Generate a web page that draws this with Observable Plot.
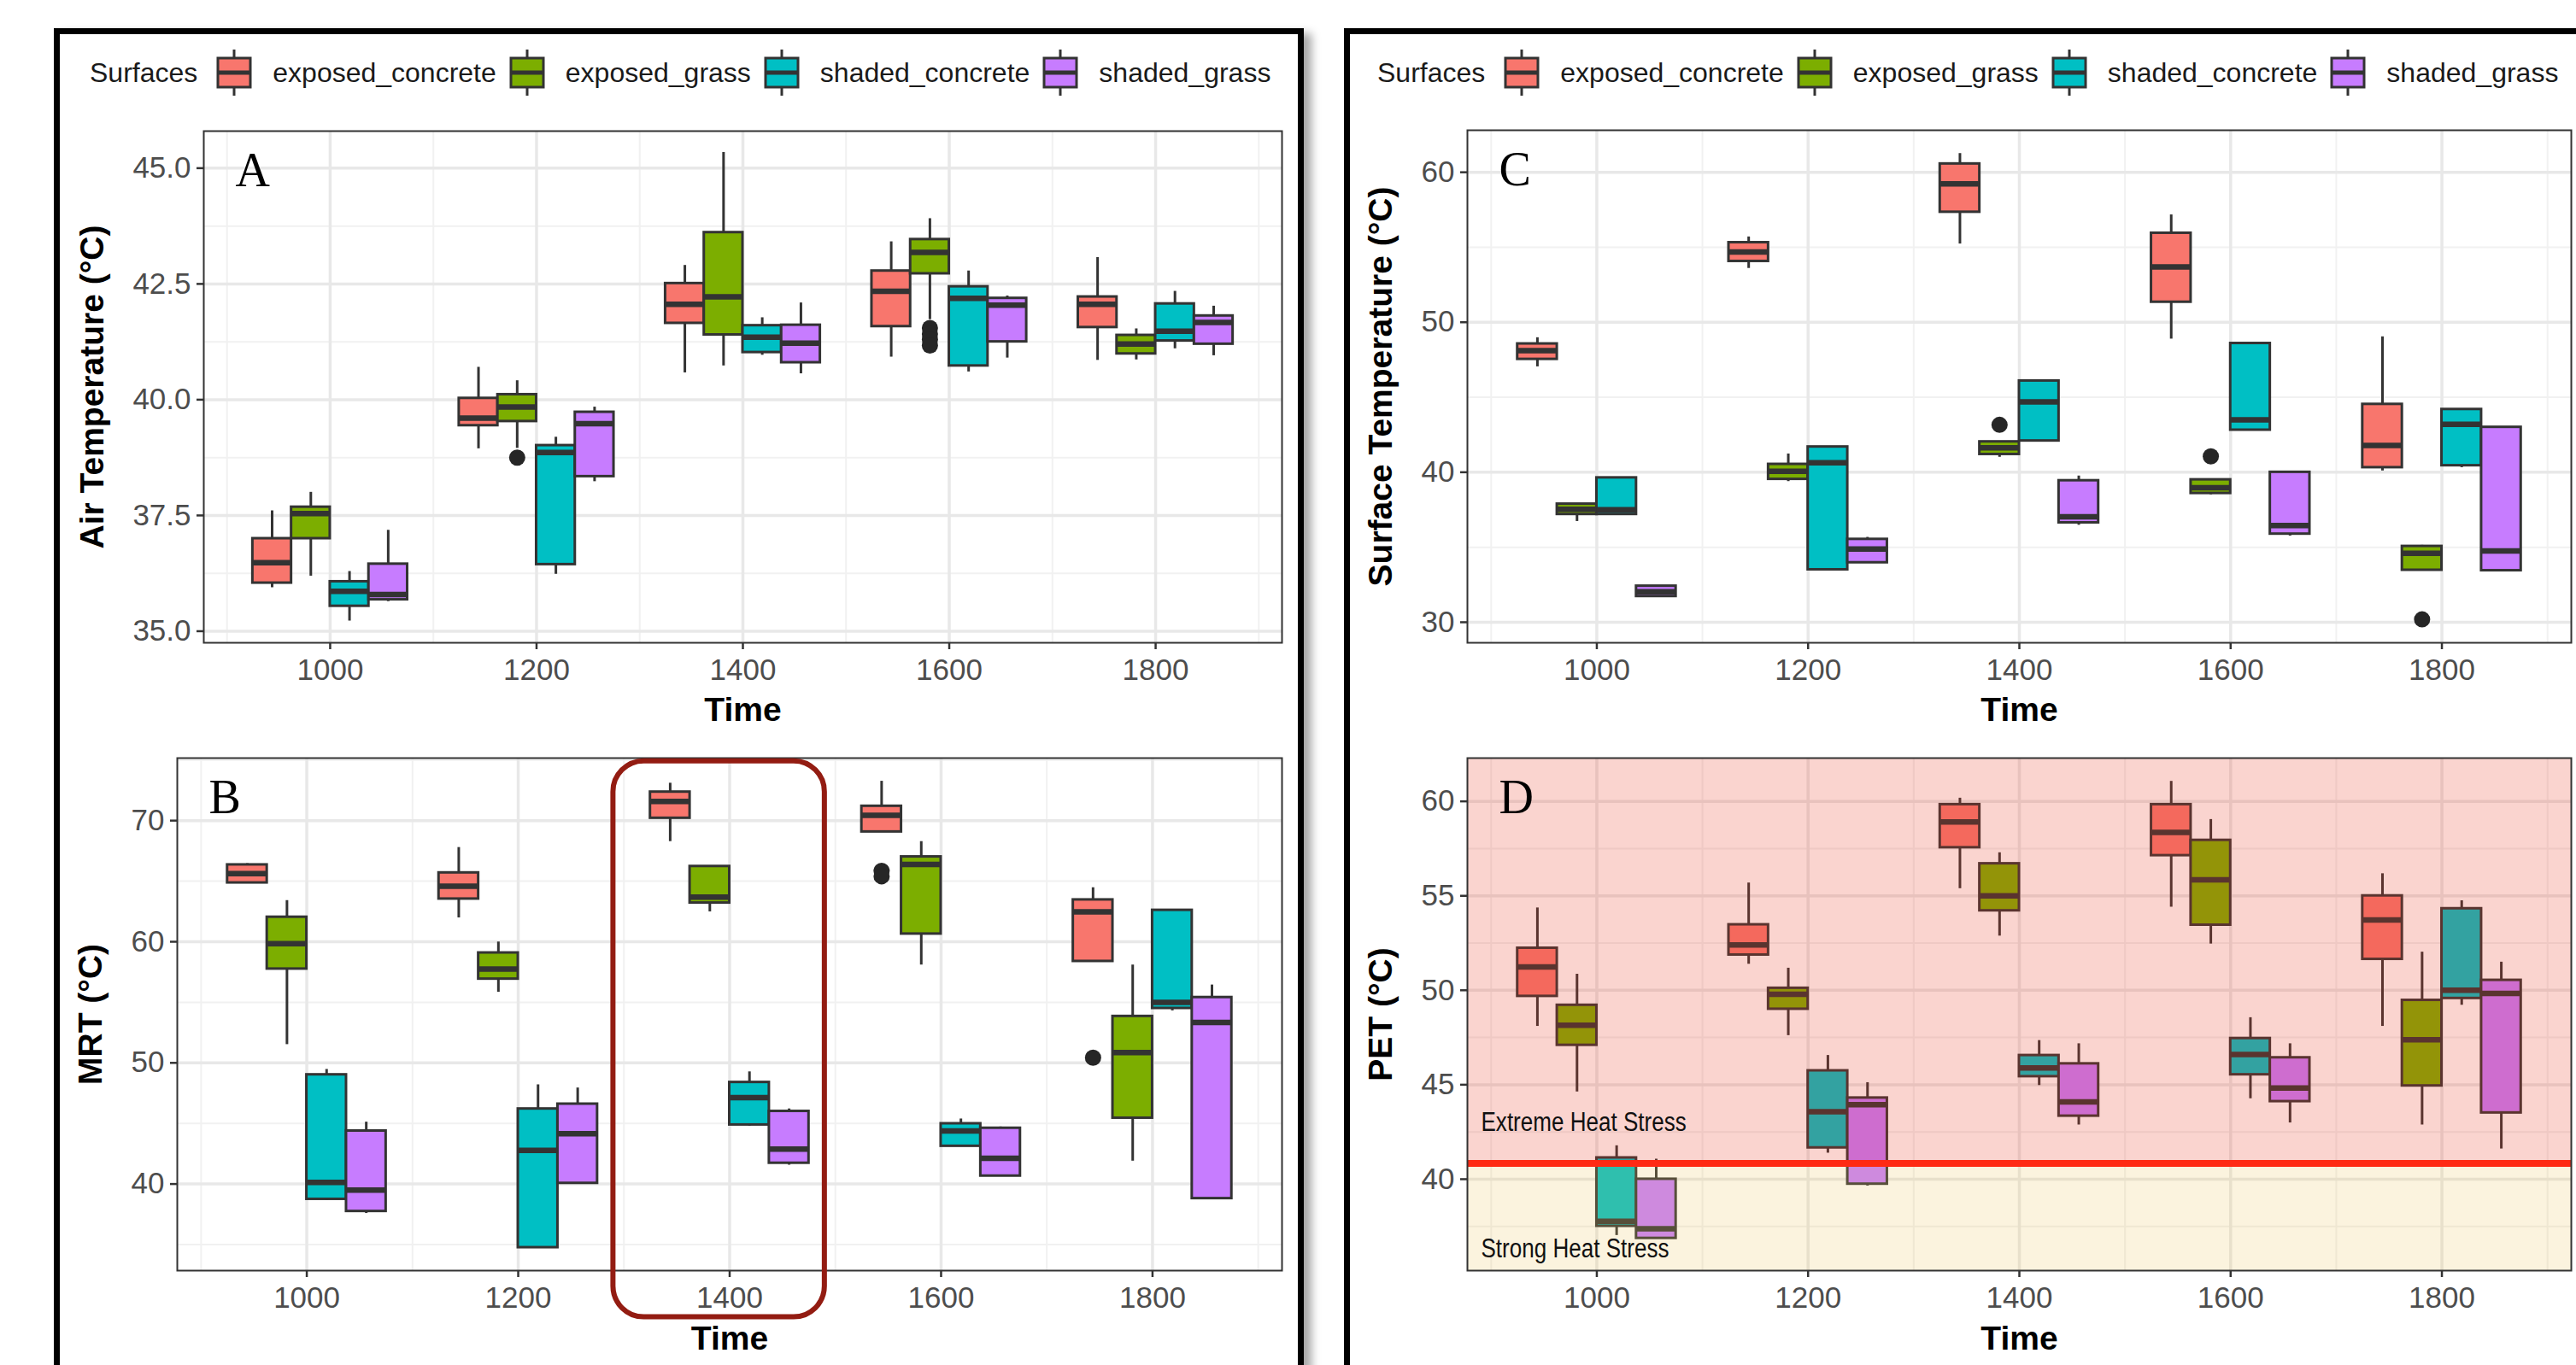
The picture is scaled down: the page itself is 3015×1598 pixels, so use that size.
<!DOCTYPE html>
<html><head><meta charset="utf-8">
<script src="https://cdn.jsdelivr.net/npm/d3@7"></script>
<script src="https://cdn.jsdelivr.net/npm/@observablehq/plot@0.6"></script>
<style>
html,body{margin:0;padding:0;background:#fff;}
#page{position:relative;width:3015px;height:1598px;overflow:hidden;background:#fff;font-family:'Liberation Sans',Arial,Helvetica,sans-serif;}
.frame{position:absolute;border:7px solid #000;box-sizing:border-box;}
.panel{position:absolute;}
.legend{position:absolute;top:58px;height:54px;display:flex;align-items:center;font-size:32px;color:#1a1a1a;white-space:nowrap;}
.legend .ttl{margin-right:18px;}
.legend svg{display:block;margin-right:20px;}
.legend .lab{margin-right:11px;}
</style></head>
<body><div id="page"></div>
<script>
// ---------- shared categories ----------
const times = [1000, 1200, 1400, 1600, 1800];
const surfaces = ["exposed_concrete", "exposed_grass", "shaded_concrete", "shaded_grass"];
const surfaceColors = ["#F8766D", "#7CAE00", "#00BFC4", "#C77CFF"];
const dodgeOffsets = [-56.25, -18.75, 18.75, 56.25];
const boxHalfWidth = 18.75;
const xDomain = [877.5, 1922.5];
const xMinor = [900, 1100, 1300, 1500, 1700, 1900];

// ---------- Panel A: Air Temperature  [whiskerLow, q1, median, q3, whiskerHigh] per time ----------
const airExposedConcrete = [[35.94,36.04,36.48,37.0,37.6],[38.94,39.44,39.6,40.03,40.7],[40.58,41.65,42.06,42.51,42.9],[40.92,41.58,42.34,42.78,43.41],[40.85,41.56,42.06,42.22,43.07]];
const airExposedGrass    = [[36.19,37.0,37.54,37.68,38.0],[38.95,39.53,39.84,40.11,40.41],[40.73,41.4,42.22,43.61,45.34],[41.73,42.72,43.18,43.46,43.91],[40.86,40.99,41.2,41.39,41.53]];
const airShadedConcrete  = [[35.22,35.54,35.86,36.07,36.29],[36.23,36.44,38.86,39.01,39.19],[40.96,41.02,41.35,41.6,41.77],[40.6,40.73,42.19,42.44,42.78],[41.1,41.27,41.48,42.07,42.34]];
const airShadedGrass     = [[35.64,35.68,35.79,36.45,37.18],[38.23,38.34,39.48,39.73,39.84],[40.56,40.8,41.22,41.61,42.09],[40.9,41.25,42.04,42.19,42.24],[40.95,41.2,41.67,41.81,42.02]];
const airOutliers = [[1200,"exposed_grass",38.75],[1600,"exposed_grass",41.55],[1600,"exposed_grass",41.42],[1600,"exposed_grass",41.3],[1600,"exposed_grass",41.17]];

// ---------- Panel B: MRT ----------
const mrtExposedConcrete = [[64.86,64.86,65.62,66.35,66.45],[61.97,63.53,64.59,65.69,67.78],[68.27,70.2,71.59,72.36,73.09],[69.07,69.07,70.43,71.19,73.25],[58.38,58.38,62.47,63.46,64.46]];
const mrtExposedGrass    = [[51.51,57.75,59.84,62.03,63.4],[55.83,56.92,57.75,59.08,59.98],[62.47,63.2,63.69,66.22,66.25],[58.08,60.64,66.38,67.01,68.27],[41.89,45.44,50.85,53.84,58.08]];
const mrtShadedConcrete  = [[38.67,38.74,40.13,49.02,49.46],[34.75,34.75,42.78,46.2,48.19],[44.78,44.88,47.13,48.39,49.26],[43.12,43.12,44.38,44.98,45.37],[54.3,54.5,55.0,62.6,62.63]];
const mrtShadedGrass     = [[37.57,37.74,39.5,44.38,45.11],[40.06,40.06,44.15,46.6,47.93],[41.56,41.72,42.88,46.0,46.2],[40.66,40.66,42.12,44.61,44.71],[38.8,38.8,53.34,55.4,56.43]];
const mrtOutliers = [[1600,"exposed_concrete",65.85],[1600,"exposed_concrete",65.4],[1800,"exposed_concrete",50.42]];
const highlightTimes = [1290, 1490];
const highlightValues = [29.0, 74.9];

// ---------- Panel C: Surface Temperature ----------
const surfExposedConcrete = [[47.03,47.53,48.1,48.56,48.97],[53.59,54.06,54.69,55.31,55.69],[55.22,57.34,59.22,60.56,61.25],[48.88,51.34,53.69,55.94,57.16],[40.09,40.31,41.78,44.53,49.03]];
const surfExposedGrass    = [[36.72,37.19,37.53,37.88,37.88],[39.38,39.53,40.06,40.53,41.22],[41.0,41.19,41.63,42.03,42.03],[38.5,38.59,38.97,39.5,39.5],[33.47,33.47,34.59,35.06,35.13]];
const surfShadedConcrete  = [[37.19,37.19,37.5,39.63,39.63],[33.5,33.5,40.63,41.69,41.72],[42.09,42.09,44.69,46.09,46.09],[42.81,42.81,43.5,48.59,48.59],[40.31,40.44,43.19,44.19,44.22]];
const surfShadedGrass     = [[31.72,31.72,32.03,32.41,32.41],[33.95,33.97,34.88,35.53,35.66],[36.47,36.63,37.03,39.44,39.75],[35.75,35.88,36.44,40.0,40.0],[33.44,33.44,34.75,43.0,43.03]];
const surfOutliers = [[1400,"exposed_grass",43.16],[1600,"exposed_grass",41.06],[1800,"exposed_grass",30.19]];

// ---------- Panel D: PET ----------
const petExposedConcrete = [[48.09,49.68,51.23,52.23,54.36],[51.38,51.87,52.4,53.47,55.68],[55.38,57.55,58.91,59.83,60.17],[54.4,57.13,58.36,59.83,61.06],[48.09,51.64,53.72,55.0,56.17]];
const petExposedGrass    = [[44.62,47.09,48.15,49.21,50.85],[47.6,49.0,49.79,50.11,51.17],[52.87,54.21,55.0,56.7,57.28],[52.45,53.45,55.85,57.94,59.04],[42.87,44.94,47.38,49.47,52.02]];
const petShadedConcrete  = [[37.02,37.51,37.77,41.13,41.77],[41.38,41.66,43.57,45.74,46.55],[44.96,45.43,45.89,46.55,47.34],[44.26,45.53,46.6,47.45,48.55],[49.21,49.57,50.0,54.32,54.74]];
const petShadedGrass     = [[36.87,36.87,37.38,40.0,41.06],[39.64,39.74,43.94,44.3,45.11],[42.87,43.34,44.09,46.11,47.17],[42.98,44.11,44.83,46.43,47.17],[41.6,43.51,49.83,50.53,51.49]];
const petThreshold = 40.83;
const stressLabels = ["Extreme Heat Stress", "Strong Heat Stress"];
const stressLabelValues = [42.55, 35.85];

// ---------- helpers ----------
function boxRows(seriesList) {
  const out = [];
  seriesList.forEach((boxes, s) => boxes.forEach((b, t) => out.push({
    surface: surfaces[s], x: times[t] + dodgeOffsets[s],
    lo: b[0], q1: b[1], med: b[2], q3: b[3], hi: b[4]
  })));
  return out;
}
function outlierRows(list) {
  return list.map(([t, s, v]) => ({x: t + dodgeOffsets[surfaces.indexOf(s)], y: v}));
}

const page = document.getElementById("page");
function addDiv(cls, style) {
  const d = document.createElement("div");
  d.className = cls;
  Object.assign(d.style, style);
  page.appendChild(d);
  return d;
}

// frames
addDiv("frame", {left: "63px", top: "33px", width: "1463px", height: "1700px", boxShadow: "9px 6px 10px rgba(0,0,0,0.35)"});
addDiv("frame", {left: "1573px", top: "33px", width: "1600px", height: "1700px"});

// legends
function legend(left) {
  const lg = addDiv("legend", {left: left + "px"});
  const t = document.createElement("span");
  t.className = "ttl"; t.textContent = "Surfaces"; lg.appendChild(t);
  surfaces.forEach((s, i) => {
    const ns = "http://www.w3.org/2000/svg";
    const svg = document.createElementNS(ns, "svg");
    svg.setAttribute("width", 50); svg.setAttribute("height", 54);
    svg.innerHTML = `<line x1="25" x2="25" y1="0" y2="54" stroke="#333" stroke-width="3"/>
      <rect x="6" y="10" width="38" height="34" fill="${surfaceColors[i]}" stroke="#333" stroke-width="3"/>
      <line x1="6" x2="44" y1="27" y2="27" stroke="#333" stroke-width="5"/>`;
    lg.appendChild(svg);
    const l = document.createElement("span");
    l.className = "lab"; l.textContent = s; lg.appendChild(l);
  });
}
legend(105);
legend(1612);

function panel(cfg) {
  const rows = boxRows(cfg.series);
  const outs = outlierRows(cfg.outliers || []);
  const marks = [
    Plot.ruleY(cfg.yMinor, {stroke: "#F1F1F1", strokeWidth: 2}),
    Plot.ruleX(xMinor, {stroke: "#F1F1F1", strokeWidth: 2}),
    Plot.ruleY(cfg.yTicks, {stroke: "#E8E8E8", strokeWidth: 3.5}),
    Plot.ruleX(times, {stroke: "#E8E8E8", strokeWidth: 3.5}),
    Plot.ruleX(rows, {x: "x", y1: "lo", y2: "hi", stroke: "#333", strokeWidth: 3}),
    Plot.rect(rows, {x1: d => d.x - boxHalfWidth, x2: d => d.x + boxHalfWidth, y1: "q1", y2: "q3", fill: "surface", stroke: "#333", strokeWidth: 3}),
    Plot.ruleY(rows, {y: "med", x1: d => d.x - boxHalfWidth, x2: d => d.x + boxHalfWidth, stroke: "#333", strokeWidth: 6.5}),
    Plot.dot(outs, {x: "x", y: "y", r: 9.5, fill: "#262626", stroke: null}),
    ...(cfg.extra || []),
    Plot.frame({stroke: "#333", strokeWidth: 2}),
    Plot.axisY(cfg.yTicks, {tickFormat: d3.format(cfg.fmt), tickSize: 8, tickPadding: 7, fontSize: 35, fill: "#4D4D4D", stroke: "#333", strokeWidth: 2.5, label: null}),
    Plot.axisX(times, {tickFormat: d3.format("d"), tickSize: 8, tickPadding: 11, fontSize: 35, fill: "#4D4D4D", stroke: "#333", strokeWidth: 2.5, label: null}),
    Plot.text([cfg.yLabel], {text: d => d, frameAnchor: "left", dx: cfg.titleDx, rotate: -90, textAnchor: "middle", lineAnchor: "middle", fontSize: 39, fontWeight: "bold", fill: "#000"}),
    Plot.text(["Time"], {text: d => d, frameAnchor: "bottom", dy: cfg.timeDy, lineAnchor: "middle", fontSize: 39, fontWeight: "bold", fill: "#000"}),
    Plot.text([cfg.letter], {text: d => d, frameAnchor: "top-left", dx: 37, dy: 64, lineAnchor: "bottom", textAnchor: "start", fontSize: 56, fontFamily: "'Liberation Serif','Times New Roman',serif", fill: "#000"}),
    ...(cfg.top || [])
  ];
  const svg = Plot.plot({
    width: cfg.width, height: cfg.height,
    marginLeft: cfg.m[0], marginRight: cfg.m[1], marginTop: cfg.m[2], marginBottom: cfg.m[3],
    x: {domain: xDomain},
    y: {domain: cfg.yDomain},
    color: {domain: surfaces, range: surfaceColors},
    style: {background: "transparent", overflow: "visible", fontFamily: "'Liberation Sans',Arial,Helvetica,sans-serif", maxWidth: "none"},
    marks
  });
  const holder = addDiv("panel", {left: cfg.left + "px", top: cfg.top_ + "px"});
  holder.appendChild(svg);
  return svg;
}

// Panel A
panel({
  left: 75, top_: 125, width: 1440, height: 760, m: [163, 15, 28, 133],
  series: [airExposedConcrete, airExposedGrass, airShadedConcrete, airShadedGrass],
  outliers: airOutliers,
  yDomain: [34.75, 45.8], yTicks: [35, 37.5, 40, 42.5, 45], yMinor: [36.25, 38.75, 41.25, 43.75], fmt: ".1f",
  yLabel: "Air Temperature (°C)", titleDx: -130, timeDy: 79, letter: "A"
});

// Panel B
panel({
  left: 75, top_: 860, width: 1440, height: 738, m: [132, 15, 27, 111],
  series: [mrtExposedConcrete, mrtExposedGrass, mrtShadedConcrete, mrtShadedGrass],
  outliers: mrtOutliers,
  yDomain: [32.85, 75.16], yTicks: [40, 50, 60, 70], yMinor: [35, 45, 55, 65, 75], fmt: "d",
  yLabel: "MRT (°C)", titleDx: -101, timeDy: 80, letter: "B",
  top: [Plot.rect([{a: highlightTimes[0], b: highlightTimes[1], c: highlightValues[0], d: highlightValues[1]}],
    {x1: "a", x2: "b", y1: "c", y2: "d", rx: 36, fill: "none", stroke: "#931C12", strokeWidth: 6})]
});

// Panel C
panel({
  left: 1582, top_: 124, width: 1430, height: 761, m: [135, 3, 28, 133],
  series: [surfExposedConcrete, surfExposedGrass, surfShadedConcrete, surfShadedGrass],
  outliers: surfOutliers,
  yDomain: [28.63, 62.8], yTicks: [30, 40, 50, 60], yMinor: [35, 45, 55], fmt: "d",
  yLabel: "Surface Temperature (°C)", titleDx: -101, timeDy: 79, letter: "C"
});

// Panel D
const petDomain = [35.16, 62.29];
const svgD = panel({
  left: 1582, top_: 860, width: 1430, height: 738, m: [135, 3, 27, 111],
  series: [petExposedConcrete, petExposedGrass, petShadedConcrete, petShadedGrass],
  outliers: [],
  yDomain: petDomain, yTicks: [40, 45, 50, 55, 60], yMinor: [37.5, 42.5, 47.5, 52.5, 57.5], fmt: "d",
  yLabel: "PET (°C)", titleDx: -101, timeDy: 80, letter: "D",
  extra: [
    Plot.rect([{a: xDomain[0], b: xDomain[1], c: petThreshold, d: petDomain[1]}], {x1: "a", x2: "b", y1: "c", y2: "d", fill: "rgb(232,60,37)", fillOpacity: 0.22}),
    Plot.rect([{a: xDomain[0], b: xDomain[1], c: petDomain[0], d: petThreshold}], {x1: "a", x2: "b", y1: "c", y2: "d", fill: "rgb(235,195,90)", fillOpacity: 0.2}),
    Plot.ruleY([petThreshold], {stroke: "#FF2A14", strokeWidth: 8})
  ],
  top: [
    Plot.text(stressLabels.map((t, i) => ({t, v: stressLabelValues[i]})), {text: "t", y: "v", frameAnchor: "left", dx: 16, lineAnchor: "bottom", textAnchor: "start", fontSize: 31, fill: "#111"})
  ]
});
// condense the stress-zone labels so they take the narrow, hand-lettered width of the original
d3.select(svgD).selectAll("text").each(function () {
  if (stressLabels.includes(this.textContent)) {
    const w = this.getComputedTextLength();
    this.setAttribute("textLength", (w * 0.84).toFixed(1));
    this.setAttribute("lengthAdjust", "spacingAndGlyphs");
  }
});
</script>
</body></html>
